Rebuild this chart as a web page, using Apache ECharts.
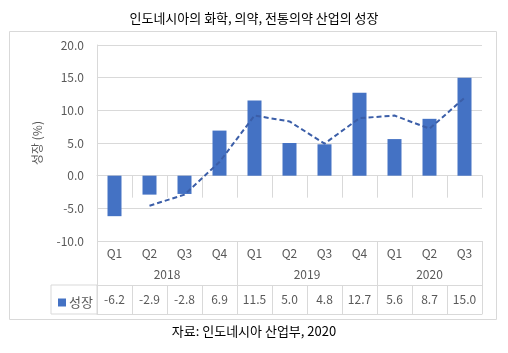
<!DOCTYPE html>
<html>
<head>
<meta charset="utf-8">
<script src="https://cdn.jsdelivr.net/npm/echarts@6/dist/echarts.min.js"></script>
<style>
  html, body { margin: 0; padding: 0; background: #fff; }
  #chart { width: 508px; height: 353px; }
</style>
</head>
<body>
<div id="chart"></div>
<script>
// 분기별 성장률 (%)
var quarters = ['Q1', 'Q2', 'Q3', 'Q4', 'Q1', 'Q2', 'Q3', 'Q4', 'Q1', 'Q2', 'Q3'];
var years = ['2018', '2019', '2020'];
var yearSpans = [4, 4, 3];
var growth = [-6.2, -2.9, -2.8, 6.9, 11.5, 5.0, 4.8, 12.7, 5.6, 8.7, 15.0];
// 이동평균 추세선
var trend = [null, -4.6, -2.9, 2.1, 9.2, 8.3, 4.9, 8.8, 9.2, 7.2, 11.9];

var FONT = 'Noto Sans CJK KR';
var GRAY = '#595959';
var LINE = '#d9d9d9';

// 연도 구분 위치
var yearBounds = [0];
var yearCenters = [];
var pos = 0;
yearSpans.forEach(function (s) {
  yearCenters.push(pos + s / 2);
  pos += s;
  yearBounds.push(pos);
});

var labelStyle = { fontFamily: FONT, fontSize: 12, color: GRAY };

var chartDom = document.getElementById('chart');
var myChart = echarts.init(chartDom);
var option = {
  animation: false,
  textStyle: { fontFamily: FONT },
  title: {
    text: '인도네시아의 화학, 의약, 전통의약 산업의 성장',
    left: 'center',
    top: 7,
    textStyle: { fontFamily: FONT, fontSize: 13, fontWeight: 'normal', color: '#000' }
  },
  graphic: [
    {
      type: 'rect',
      shape: { x: 9.5, y: 31.5, width: 487, height: 288 },
      style: { fill: 'none', stroke: LINE, lineWidth: 1 },
      z: -1
    },
    {
      type: 'text',
      left: 'center',
      top: 325,
      style: { text: '자료: 인도네시아 산업부, 2020', font: '13px ' + FONT, fill: '#000' }
    }
  ],
  legend: {
    data: ['성장'],
    left: 53,
    top: 291,
    itemWidth: 8,
    itemHeight: 8,
    itemGap: 4,
    icon: 'rect',
    textStyle: { fontFamily: FONT, fontSize: 13, color: GRAY, padding: [0, 0, 0, -2] }
  },
  grid: [
    { left: 97, right: 26, top: 45, bottom: 112 },
    { left: 51, width: 46, top: 285, height: 29, show: true, borderColor: LINE, borderWidth: 1 }
  ],
  xAxis: [
    {
      type: 'category',
      data: quarters,
      axisLine: { show: true, lineStyle: { color: LINE } },
      axisTick: { show: true, length: 22, lineStyle: { color: LINE } },
      axisLabel: Object.assign({ margin: 6 }, labelStyle)
    },
    {
      type: 'value',
      min: 0,
      max: quarters.length,
      position: 'bottom',
      axisLine: { show: false },
      splitLine: { show: false },
      axisTick: { show: true, length: 44, customValues: yearBounds, lineStyle: { color: LINE } },
      axisLabel: Object.assign({
        customValues: yearCenters,
        margin: 27,
        formatter: function (v) { return years[yearCenters.indexOf(v)]; }
      }, labelStyle)
    },
    {
      type: 'category',
      data: quarters,
      offset: 44,
      position: 'bottom',
      axisLine: { show: true, lineStyle: { color: LINE } },
      axisTick: { show: true, length: 29, lineStyle: { color: LINE } },
      axisLabel: Object.assign({
        margin: 8,
        formatter: function (v, i) { return growth[i].toFixed(1); }
      }, labelStyle)
    },
    {
      type: 'category',
      data: quarters,
      offset: 73,
      position: 'bottom',
      axisLine: { show: true, lineStyle: { color: LINE } },
      axisTick: { show: false },
      axisLabel: { show: false }
    },
    { type: 'category', gridIndex: 1, show: false, data: [''] }
  ],
  yAxis: [
    {
      type: 'value',
      min: -10,
      max: 20,
      interval: 5,
      name: '성장 (%)',
      nameLocation: 'middle',
      nameGap: 54,
      nameTextStyle: labelStyle,
      axisLine: { show: true, lineStyle: { color: LINE } },
      axisTick: { show: false },
      axisLabel: Object.assign({
        margin: 13,
        formatter: function (v) { return v.toFixed(1); }
      }, labelStyle),
      splitLine: { lineStyle: { color: LINE } }
    },
    { type: 'value', gridIndex: 1, show: false }
  ],
  series: [
    {
      name: '성장',
      type: 'bar',
      data: growth,
      barWidth: 14,
      itemStyle: { color: '#4472C4' }
    },
    {
      name: '추세',
      type: 'line',
      data: trend,
      showSymbol: false,
      connectNulls: false,
      lineStyle: { color: '#3b5ea8', width: 2, type: [5, 3] },
      z: 3
    }
  ]
};
myChart.setOption(option);
</script>
</body>
</html>
